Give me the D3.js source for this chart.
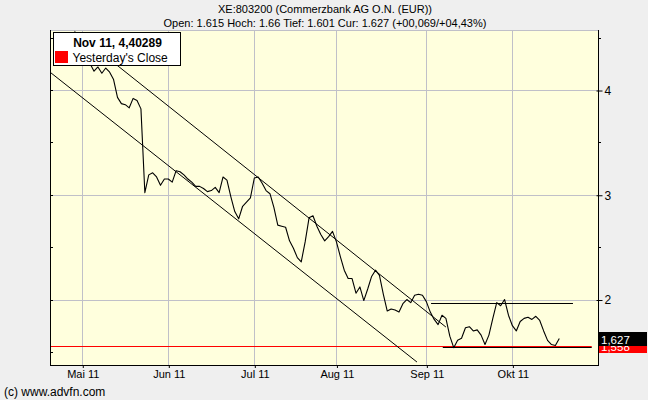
<!DOCTYPE html>
<html>
<head>
<meta charset="utf-8">
<script src="https://cdn.jsdelivr.net/npm/d3@7"></script>
<style>
  html, body { margin: 0; padding: 0; background: #efefef; }
  svg { display: block; font-family: "Liberation Sans", Arial, sans-serif; }
</style>
</head>
<body>
<main></main>
<script>
// trading-day index 0 = first trading day of May 2011
const firstIdx = -7;
const closes = [
  4.40, 4.43, 4.38, 4.42, 4.45, 4.38, 4.34, 4.36, 4.30, 4.25,
  4.18, 4.22, 4.16, 4.21, 4.17, 4.10, 3.93, 3.87, 3.86, 3.83,
  3.92, 3.90, 3.82, 3.02, 3.19, 3.21, 3.17, 3.09, 3.15, 3.15,
  3.12, 3.23, 3.22, 3.19, 3.15, 3.12, 3.08, 3.08, 3.06, 3.03,
  3.04, 3.07, 3.02, 3.17, 3.14, 2.98, 2.84, 2.77, 2.89, 2.93,
  2.97, 3.16, 3.17, 3.11, 3.04, 3.01, 2.88, 2.71, 2.70, 2.69,
  2.56, 2.49, 2.40, 2.36, 2.55, 2.78, 2.80, 2.70, 2.62, 2.56,
  2.60, 2.65, 2.55, 2.41, 2.28, 2.20, 2.20, 2.06, 2.12, 1.99,
  2.10, 2.22, 2.28, 2.23, 2.05, 1.89, 1.91, 1.90, 1.88, 1.96,
  2.00, 1.97, 2.04, 2.05, 2.04, 1.98, 1.88, 1.81, 1.76, 1.85,
  1.82, 1.65, 1.54, 1.61, 1.63, 1.73, 1.74, 1.70, 1.71, 1.66,
  1.57, 1.66, 1.82, 1.97, 1.94, 2.00, 1.85, 1.75, 1.70, 1.79,
  1.82, 1.83, 1.81, 1.84, 1.80, 1.70, 1.61, 1.57, 1.56, 1.627
];

const monthLabels = ["Mai 11", "Jun 11", "Jul 11", "Aug 11", "Sep 11", "Okt 11"];
const monthStart = [0, 22, 44, 65, 88, 110];
const yTicks = [2, 3, 4];
const yMinor = [1.5, 2.5, 3.5, 4.5];

// drawn trend lines: [index, value] end points
const upperChannel = [[-2, 4.56], [93, 1.737]];
const lowerChannel = [[-8.3, 4.172], [85.6, 1.403]];
const resistance = [[89.2, 1.964], [125.5, 1.964]];
const support = [[92.2, 1.544], [130.3, 1.544]];

const yesterdayClose = 1.558;
const current = 1.627;
const titleText = "XE:803200 (Commerzbank AG O.N. (EUR))";
const subText = "Open: 1.615 Hoch: 1.66 Tief: 1.601 Cur: 1.627 (+00,069/+04,43%)";
const legendTitle = "Nov 11, 4,40289";
const legendLabel = "Yesterday's Close";

const W = 648, H = 400;
const pL = 50, pR = 598, pT = 30, pB = 365;

let svg = d3.select("main").append("svg").attr("width", W).attr("height", H);

let x = d3.scaleLinear().domain([-8.26, 131.9]).range([pL, pR]);
let y = d3.scaleLinear().domain([1.3747, 4.573]).range([pB, pT]);
const px = v => Math.round(v) + 0.5;

svg.append("rect").attr("width", W).attr("height", H).attr("fill", "#efefef");
svg.append("rect")
   .attr("x", pL).attr("y", pT)
   .attr("width", pR - pL).attr("height", pB - pT)
   .attr("fill", "#ffffdd");

// grid
let grid = svg.append("g").attr("stroke", "#c0c0c8").attr("stroke-width", 1);
grid.selectAll("line.v").data(monthStart).enter().append("line")
    .attr("x1", d => px(x(d))).attr("x2", d => px(x(d)))
    .attr("y1", pT).attr("y2", pB);
grid.selectAll("line.h").data(yTicks).enter().append("line")
    .attr("x1", pL).attr("x2", pR)
    .attr("y1", d => px(y(d))).attr("y2", d => px(y(d)));
grid.append("line").attr("x1", pL).attr("x2", pR).attr("y1", pT + 0.5).attr("y2", pT + 0.5);

let plot = svg.append("g");
plot.append("clipPath").attr("id", "clip").append("rect")
    .attr("x", pL).attr("y", pT).attr("width", pR - pL).attr("height", pB - pT);
let inner = plot.append("g").attr("clip-path", "url(#clip)");

let line = d3.line().x(d => x(d[0])).y(d => y(d[1]));

// yesterday's close
inner.append("line")
     .attr("x1", pL).attr("x2", x(support[1][0]))
     .attr("y1", px(y(yesterdayClose))).attr("y2", px(y(yesterdayClose)))
     .attr("stroke", "#ff0000").attr("stroke-width", 1);

// channel lines
[upperChannel, lowerChannel].forEach(seg => {
    inner.append("path").attr("d", line(seg))
         .attr("fill", "none").attr("stroke", "#000").attr("stroke-width", 1);
});
// horizontal levels
[resistance, support].forEach(seg => {
    inner.append("line")
         .attr("x1", x(seg[0][0])).attr("x2", x(seg[1][0]))
         .attr("y1", px(y(seg[0][1]))).attr("y2", px(y(seg[1][1])))
         .attr("stroke", "#000").attr("stroke-width", 1);
});

inner.append("path")
     .attr("d", line(closes.map((v, i) => [firstIdx + i, v])))
     .attr("fill", "none").attr("stroke", "#000").attr("stroke-width", 1.1)
     .attr("stroke-linejoin", "round");

// axes frame
let frame = svg.append("g").attr("stroke", "#000").attr("stroke-width", 1);
frame.append("line").attr("x1", pL + 0.5).attr("x2", pL + 0.5).attr("y1", pT).attr("y2", pB + 1);
frame.append("line").attr("x1", pR + 0.5).attr("x2", pR + 0.5).attr("y1", pT).attr("y2", pB + 1);
frame.append("line").attr("x1", pL).attr("x2", pR + 1).attr("y1", pB + 0.5).attr("y2", pB + 0.5);

// right y axis
let yAxis = d3.axisRight(y).tickValues(yTicks).tickFormat(d3.format("d")).tickSize(4).tickPadding(2);
let ya = svg.append("g").attr("transform", `translate(${pR + 0.5},0.5)`).call(yAxis);
ya.select(".domain").remove();
ya.selectAll(".tick line").attr("x1", -2).attr("stroke", "#000");
ya.selectAll("text").attr("font-size", 12).attr("fill", "#000").attr("font-family", "Liberation Sans, Arial, sans-serif");
svg.append("g").selectAll("line").data(yMinor).enter().append("line")
   .attr("x1", pR).attr("x2", pR + 3)
   .attr("y1", d => px(y(d))).attr("y2", d => px(y(d)))
   .attr("stroke", "#000");
svg.append("g").selectAll("line").data(yMinor.concat(yTicks)).enter().append("line")
   .attr("x1", pL).attr("x2", pL + 3)
   .attr("y1", d => px(y(d))).attr("y2", d => px(y(d)))
   .attr("stroke", "#000");

// bottom month axis
let xAxis = d3.axisBottom(x).tickValues(monthStart)
    .tickFormat((d, i) => monthLabels[i]).tickSize(3).tickPadding(2);
let xa = svg.append("g").attr("transform", `translate(0.5,${pB})`).call(xAxis);
xa.select(".domain").remove();
xa.selectAll(".tick line").attr("stroke", "#000");
xa.selectAll("text").attr("font-size", 11).attr("fill", "#000").attr("font-family", "Liberation Sans, Arial, sans-serif");

// value boxes on right
let boxes = [
    { v: yesterdayClose, fill: "#ff0000", label: "1,558" },
    { v: current, fill: "#000000", label: "1,627" }
];
let bx = svg.append("g").selectAll("g").data(boxes).enter().append("g")
    .attr("transform", d => `translate(${pR + 1},${Math.round(y(d.v)) - 7})`);
bx.append("rect").attr("width", W - pR - 2).attr("height", 14).attr("fill", d => d.fill);
bx.append("text").text(d => d.label)
  .attr("x", 2).attr("y", 11.5)
  .attr("font-size", 11.5).attr("fill", "#fff");

// titles
svg.append("text").text(titleText)
   .attr("x", 325).attr("y", 13).attr("text-anchor", "middle")
   .attr("font-size", 11).attr("fill", "#000");
svg.append("text").text(subText)
   .attr("x", 325).attr("y", 27).attr("text-anchor", "middle")
   .attr("font-size", 11).attr("fill", "#000");
svg.append("text").text("(c) www.advfn.com")
   .attr("x", 4).attr("y", 396)
   .attr("font-size", 12).attr("fill", "#000");

// legend box
let legend = svg.append("g").attr("transform", "translate(53.5,32.5)");
legend.append("rect").attr("width", 127).attr("height", 33)
      .attr("fill", "#fff").attr("stroke", "#000");
legend.append("text").text(legendTitle)
      .attr("x", 64).attr("y", 14).attr("text-anchor", "middle")
      .attr("font-size", 12).attr("font-weight", "bold").attr("fill", "#000");
legend.append("rect").attr("x", 1.5).attr("y", 18.5).attr("width", 13).attr("height", 12)
      .attr("fill", "#ff0000");
legend.append("text").text(legendLabel)
      .attr("x", 19).attr("y", 29)
      .attr("font-size", 12).attr("fill", "#000");
</script>
</body>
</html>
